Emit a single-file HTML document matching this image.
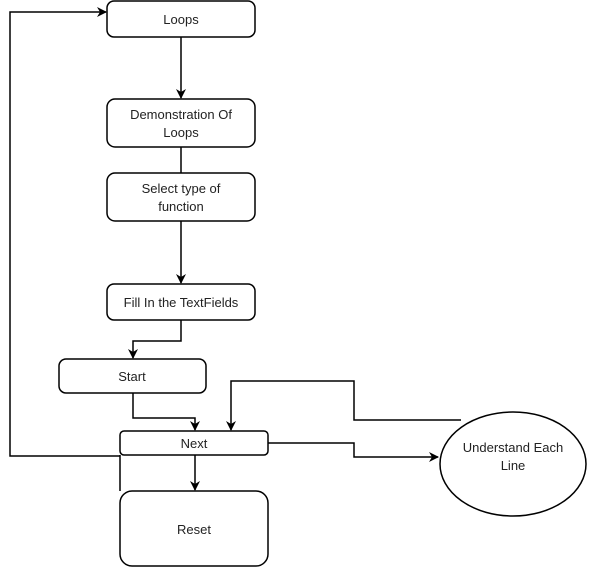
<!DOCTYPE html>
<html><head><style>
body{margin:0;background:#fff}
svg{display:block}
text{font-family:"Liberation Sans",sans-serif;font-size:13px;fill:#222;text-anchor:middle}
</style></head><body>
<svg width="602" height="580" viewBox="0 0 602 580">
<defs><marker id="a" markerWidth="10" markerHeight="10" refX="9" refY="5" orient="auto" markerUnits="userSpaceOnUse"><path d="M0,0 L10,5 L0,10 L3,5 z" fill="#000"/></marker></defs>
<g fill="#fff" stroke="#000" stroke-width="1.5">
<rect x="107" y="1" width="148" height="36" rx="7"/>
<rect x="107" y="99" width="148" height="48" rx="8"/>
<rect x="107" y="173" width="148" height="48" rx="8"/>
<rect x="107" y="284" width="148" height="36" rx="7"/>
<rect x="59" y="359" width="147" height="34" rx="7"/>
<rect x="120" y="431" width="148" height="24" rx="4"/>
<rect x="120" y="491" width="148" height="75" rx="12"/>
<ellipse cx="513" cy="464" rx="73" ry="52"/>
</g>
<g fill="none" stroke="#000" stroke-width="1.5">
<path d="M181 37V98" marker-end="url(#a)"/>
<path d="M181 147V173"/>
<path d="M181 221V283" marker-end="url(#a)"/>
<path d="M181 320V341H133V358" marker-end="url(#a)"/>
<path d="M133 393V418H195V430" marker-end="url(#a)"/>
<path d="M195 455V490" marker-end="url(#a)"/>
<path d="M120 455V491"/>
<path d="M120 456H10V12H106" marker-end="url(#a)"/>
<path d="M268 443H354V457H438" marker-end="url(#a)"/>
<path d="M461 420H354V381H231V430" marker-end="url(#a)"/>
</g>
<text x="181" y="24">Loops</text>
<text x="181" y="119">Demonstration Of</text>
<text x="181" y="137">Loops</text>
<text x="181" y="193">Select type of</text>
<text x="181" y="211">function</text>
<text x="181" y="307">Fill In the TextFields</text>
<text x="132" y="381">Start</text>
<text x="194" y="448">Next</text>
<text x="194" y="534">Reset</text>
<text x="513" y="452">Understand Each</text>
<text x="513" y="470">Line</text>
</svg>
</body></html>
